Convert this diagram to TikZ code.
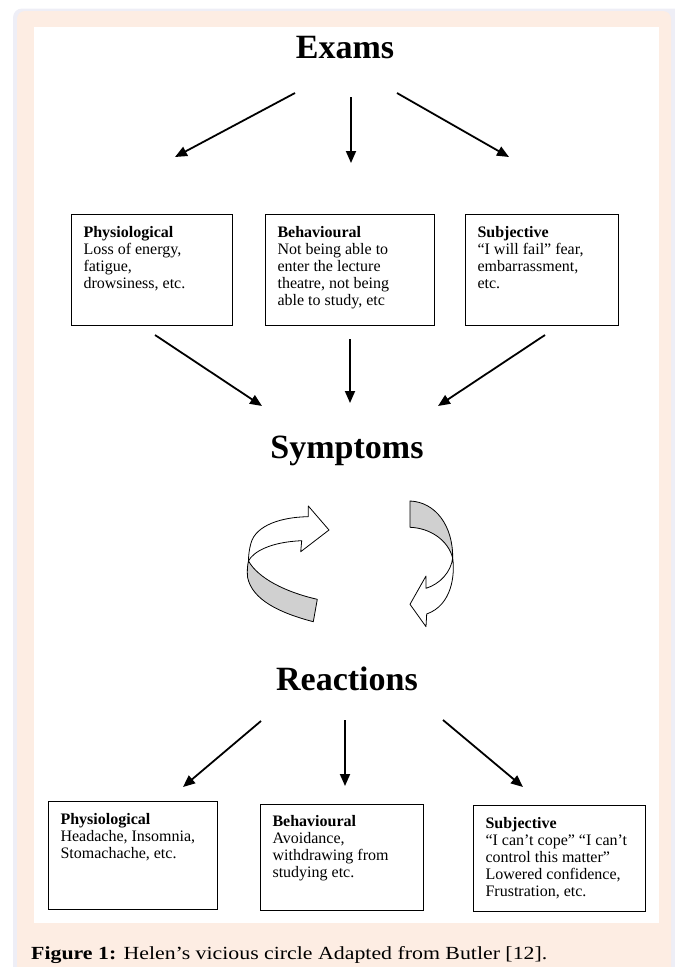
\documentclass[tikz,border=0pt]{standalone}
\usepackage{fontspec}
\setmainfont{Liberation Serif}
\newfontfamily\capfont[FakeStretch=1.18]{Liberation Serif}
\usetikzlibrary{arrows.meta}
\definecolor{lav}{HTML}{EEEEF6}
\definecolor{peach}{HTML}{FDEDE3}
\definecolor{ribbon}{HTML}{D0D0D0}
\begin{document}
\begin{tikzpicture}[x=1pt,y=-1pt,
  arr/.style={line width=1.8pt,-{Triangle[length=12pt,width=10pt]}},
  title/.style={font=\fontsize{34}{40}\selectfont\bfseries, inner sep=0pt, anchor=base},
  box/.style={draw, line width=1.1pt, anchor=north west, inner xsep=12pt, inner ysep=0pt,
    font=\fontsize{16}{17}\selectfont},
  rib/.style={draw, line width=0.8pt, line join=round}]
\useasboundingbox (0,0) rectangle (675,967);
% background
\fill[lav, rounded corners=9pt] (13,8.5) rectangle (700,1000);
\fill[peach, rounded corners=8pt] (17,11) rectangle (671,1000);
\fill[white] (34,27) rectangle (659,923);
% titles
\node[title] (exams) at (345,58) {Exams};
\node[title] (symp) at (347,458) {Symptoms};
\node[title] (reac) at (347,690) {Reactions};
% top boxes
\node[box] (p1) at (71,214) {\parbox[c][111pt][t]{137pt}{\raggedright\rule{0pt}{22.7pt}\textbf{Physiological}\\Loss of energy,\\fatigue,\\drowsiness, etc.}};
\node[box] (b1) at (265,214) {\parbox[c][111pt][t]{145pt}{\raggedright\rule{0pt}{22.7pt}\textbf{Behavioural}\\Not being able to\\enter the lecture\\theatre, not being\\able to study, etc}};
\node[box] (s1) at (465,214) {\parbox[c][111pt][t]{129pt}{\raggedright\rule{0pt}{22.7pt}\textbf{Subjective}\\“I will fail” fear,\\embarrassment,\\etc.}};
% bottom boxes
\node[box] (p2) at (48,801) {\parbox[c][108pt][t]{145pt}{\raggedright\rule{0pt}{22.7pt}\textbf{Physiological}\\Headache, Insomnia,\\Stomachache, etc.}};
\node[box] (b2) at (260,803.5) {\parbox[c][106pt][t]{139pt}{\raggedright\rule{0pt}{22.7pt}\textbf{Behavioural}\\Avoidance,\\withdrawing from\\studying etc.}};
\node[box] (s2) at (473,805) {\parbox[c][105.5pt][t]{147.5pt}{\raggedright\rule{0pt}{22.7pt}\textbf{Subjective}\\“I can’t cope” “I can’t\\control this matter”\\Lowered confidence,\\Frustration, etc.}};
% arrow end points
\coordinate (ea) at (295,93);  \coordinate (ea2) at (175,157);
\coordinate (eb) at (351,97);  \coordinate (eb2) at (351,163);
\coordinate (ec) at (397,93);  \coordinate (ec2) at (509,157);
\coordinate (sa) at (155,335); \coordinate (sa2) at (262,406);
\coordinate (sb) at (350,339); \coordinate (sb2) at (350,403);
\coordinate (sc) at (545,335); \coordinate (sc2) at (438,406);
\coordinate (ra) at (261,721); \coordinate (ra2) at (183,787);
\coordinate (rb) at (345,720); \coordinate (rb2) at (345,786);
\coordinate (rc) at (443,720); \coordinate (rc2) at (523,787);
\draw[arr] (ea) -- (ea2);
\draw[arr] (eb) -- (eb2);
\draw[arr] (ec) -- (ec2);
\draw[arr] (sa) -- (sa2);
\draw[arr] (sb) -- (sb2);
\draw[arr] (sc) -- (sc2);
\draw[arr] (ra) -- (ra2);
\draw[arr] (rb) -- (rb2);
\draw[arr] (rc) -- (rc2);
% left curved ribbon arrow
\coordinate (t1) at (248.5,561);
\draw[rib, fill=white] (308.3,516.7) .. controls (282,517) and (256,525) .. (251,543)
  .. controls (249,550) and (248.5,556) .. (t1)
  .. controls (253,552) and (270,542) .. (301.7,540.7)
  -- (300.7,551.7) -- (329,530) -- (308.3,506) -- cycle;
\draw[rib, fill=ribbon] (t1) .. controls (258,578) and (285,592) .. (317.3,599.3)
  -- (313.3,621.7) .. controls (280,613) and (252,600) .. (247.5,577)
  .. controls (247,570) and (247.5,565) .. (t1);
% right curved ribbon arrow
\coordinate (t2) at (452.7,558);
\draw[rib, fill=ribbon] (410,501) .. controls (435,502) and (453,525) .. (t2)
  .. controls (448,540) and (430,528) .. (410,527.3) -- cycle;
\draw[rib, fill=white] (t2) .. controls (455,575) and (452,605) .. (426.7,614)
  -- (426,626.7) -- (410,604.3) -- (426,576) -- (426,588.3)
  .. controls (440,584) and (451,572) .. (t2);
% caption
\node[anchor=base west, inner sep=0pt, font=\capfont\fontsize{18.5}{20}\selectfont] (cap) at (31,959)
  {\textbf{Figure 1:} Helen’s vicious circle Adapted from Butler [12].};
\end{tikzpicture}
\end{document}
